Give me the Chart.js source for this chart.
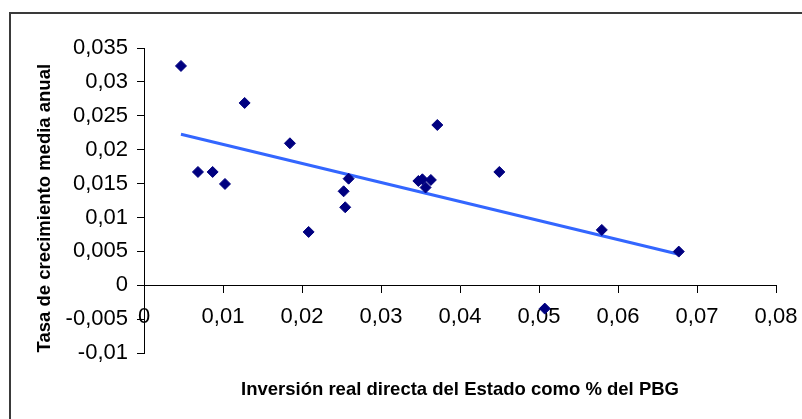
<!DOCTYPE html>
<html>
<head>
<meta charset="utf-8">
<script src="https://cdn.jsdelivr.net/npm/chart.js@4.4.0/dist/chart.umd.min.js"></script>
<style>
    html, body { margin: 0; padding: 0; background: #fff; overflow: hidden; }
    #wrap { position: relative; width: 802px; height: 419px; }
    #frame {
        position: absolute; left: 9px; top: 12px; width: 820px; height: 440px;
        border-left: 2px solid #3a3a3a; border-top: 2px solid #3a3a3a;
    }
    #graph { position: absolute; left: 0; top: 0; }
</style>
</head>
<body>
<div id="wrap">
    <div id="frame"></div>
    <canvas id="graph" width="802" height="419"></canvas>
</div>
<script>
// values
const inversion = [0.00468, 0.01274, 0.01847, 0.00683, 0.00869, 0.01025, 0.0259, 0.02527, 0.02547, 0.02084,
    0.03713, 0.03473, 0.03524, 0.03631, 0.03564, 0.04498, 0.05795, 0.06769, 0.05073];
const crecimiento = [0.03235, 0.02689, 0.02094, 0.01671, 0.01671, 0.01494, 0.01572, 0.01386, 0.0115, 0.00786,
    0.02364, 0.01538, 0.01563, 0.01553, 0.01442, 0.01671, 0.00816, 0.00496, -0.00345];

// linear trend line ends
const trendX = [0.00468, 0.06769];
const trendY = [0.02227, 0.00457];

const xTickValues = [0, 0.01, 0.02, 0.03, 0.04, 0.05, 0.06, 0.07, 0.08];
const xTickLabels = ["0", "0,01", "0,02", "0,03", "0,04", "0,05", "0,06", "0,07", "0,08"];
const yTickValues = [-0.01, -0.005, 0, 0.005, 0.01, 0.015, 0.02, 0.025, 0.03, 0.035];
const yTickLabels = ["-0,01", "-0,005", "0", "0,005", "0,01", "0,015", "0,02", "0,025", "0,03", "0,035"];

const xTitle = "Inversión real directa del Estado como % del PBG";
// trailing spaces nudge the rotated title a little lower, as in the original
const yTitle = "Tasa de crecimiento media anual   ";

Chart.defaults.font.family = "'Liberation Sans', Arial, sans-serif";
Chart.defaults.color = "#000";

const points = inversion.map((x, i) => ({ x: x, y: crecimiento[i] }));
const trend = trendX.map((x, i) => ({ x: x, y: trendY[i] }));

const tickFont = { size: 22 };
const titleFont = { size: 18.5, weight: "bold" };

const options = {
    type: "scatter",
    data: {
        datasets: [
            {
                label: "Datos",
                data: points,
                pointStyle: "rectRot",
                pointRadius: 5.5,
                pointBackgroundColor: "#000080",
                pointBorderColor: "#000080",
                pointBorderWidth: 1,
                order: 1
            },
            {
                type: "line",
                label: "Tendencia",
                data: trend,
                borderColor: "#3366ff",
                borderWidth: 3,
                pointRadius: 0,
                fill: false,
                order: 2
            }
        ]
    },
    options: {
        responsive: false,
        animation: false,
        layout: { autoPadding: false, padding: { left: 10, right: 26, top: 48, bottom: 66 } },
        plugins: { legend: { display: false }, tooltip: { enabled: false } },
        scales: {
            x: {
                type: "linear",
                position: { y: 0 },
                min: 0,
                max: 0.08,
                afterBuildTicks: s => { s.ticks = xTickValues.map(v => ({ value: v })); },
                // labels may hang over the edges, don't shrink the plot for them
                afterFit: s => { s.paddingLeft = 0; s.paddingRight = 0; },
                ticks: {
                    font: tickFont,
                    padding: 12,
                    maxRotation: 0,
                    autoSkip: false,
                    callback: (v, i) => xTickLabels[i]
                },
                grid: { drawOnChartArea: false, drawTicks: true, tickLength: 7, color: "#000" },
                border: { display: true, color: "#000", width: 1 },
                title: { display: true, text: xTitle, font: titleFont, padding: { top: 36, bottom: 0 } }
            },
            y: {
                type: "linear",
                position: "left",
                min: -0.01,
                max: 0.035,
                afterBuildTicks: s => { s.ticks = yTickValues.map(v => ({ value: v })); },
                afterFit: s => { s.width = 134; },
                ticks: {
                    font: tickFont,
                    padding: 9,
                    autoSkip: false,
                    callback: (v, i) => yTickLabels[i]
                },
                grid: { drawOnChartArea: false, drawTicks: true, tickLength: 7, color: "#000" },
                border: { display: true, color: "#000", width: 1 },
                title: { display: true, text: yTitle, font: titleFont, padding: { top: 24, bottom: 0 } }
            }
        }
    }
};

// eslint-disable-next-line no-unused-vars
const chart = new Chart(document.querySelector("#graph").getContext("2d"), options);
</script>
</body>
</html>
